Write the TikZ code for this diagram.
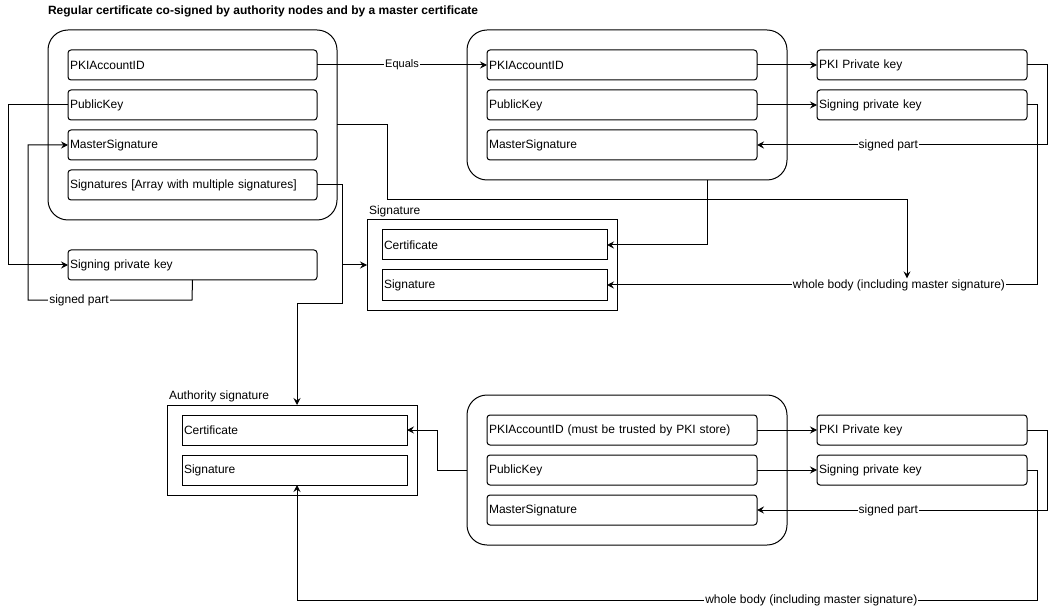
\documentclass[tikz,border=0pt]{standalone}
\usepackage{fontspec}
\setmainfont{Liberation Sans}
\usetikzlibrary{arrows.meta}
\begin{document}
\begin{tikzpicture}[x=1pt,y=-1pt,
  every node/.style={font=\fontsize{12}{14}\selectfont, outer sep=0pt},
  fld/.style={draw, line width=1pt, rounded corners=3pt, minimum height=30pt,
    inner xsep=2pt, inner ysep=0pt, anchor=north west, align=left},
  sqfld/.style={fld, rounded corners=0pt},
  grp/.style={draw, line width=1pt, rounded corners=20pt, anchor=north west, inner sep=0pt},
  frame/.style={draw, line width=1pt, anchor=north west, inner sep=0pt},
  captxt/.style={anchor=base west, inner sep=0pt},
  lnk/.style={line width=1pt, -{Stealth[length=7pt,width=7pt,inset=2.5pt]}},
  lbl/.style={fill=white, inner sep=1pt, font=\fontsize{12}{14}\selectfont},
  smalllbl/.style={lbl, font=\fontsize{11}{13}\selectfont},
]
\useasboundingbox (0,0) rectangle (1056,609);

% title
\node[captxt, font=\bfseries\fontsize{12}{14}\selectfont] (title) at (48,15)
  {Regular certificate co-signed by authority nodes and by a master certificate};

% regular certificate
\node[grp, minimum width=289pt, minimum height=190pt] (g1) at (48,30) {};
\node[fld, text width=245pt] (a1) at (68,50)  {PKIAccountID};
\node[fld, text width=245pt] (a2) at (68,90)  {PublicKey};
\node[fld, text width=245pt] (a3) at (68,130) {MasterSignature};
\node[fld, text width=245pt] (a4) at (68,170) {Signatures [Array with multiple signatures]};
\node[fld, text width=245pt] (a5) at (68,250) {Signing private key};

% master certificate
\node[grp, minimum width=320pt, minimum height=150pt] (g2) at (467,30) {};
\node[fld, text width=266pt] (b1) at (487,50)  {PKIAccountID};
\node[fld, text width=266pt] (b2) at (487,90)  {PublicKey};
\node[fld, text width=266pt] (b3) at (487,130) {MasterSignature};
\node[fld, text width=206pt] (c1) at (817,50)  {PKI Private key};
\node[fld, text width=206pt] (c2) at (817,90)  {Signing private key};

% signature record
\node[frame, minimum width=250pt, minimum height=90pt] (s) at (367,220) {};
\node[captxt] (slbl) at (369,215) {Signature};
\node[sqfld, text width=221pt] (s1) at (382,230) {Certificate};
\node[sqfld, text width=221pt] (s2) at (382,270) {Signature};

% authority signature record
\node[frame, minimum width=250pt, minimum height=90pt] (au) at (167,405) {};
\node[captxt] (aulbl) at (169,399) {Authority signature};
\node[sqfld, text width=221pt] (u1) at (182,415) {Certificate};
\node[sqfld, text width=221pt] (u2) at (182,455) {Signature};

% authority certificate
\node[grp, minimum width=320pt, minimum height=150pt] (g3) at (467,395) {};
\node[fld, text width=266pt] (d1) at (487,415) {PKIAccountID (must be trusted by PKI store)};
\node[fld, text width=266pt] (d2) at (487,455) {PublicKey};
\node[fld, text width=266pt] (d3) at (487,495) {MasterSignature};
\node[fld, text width=206pt] (e1) at (817,415) {PKI Private key};
\node[fld, text width=206pt] (e2) at (817,455) {Signing private key};

% connectors: regular certificate
\draw[lnk] (a1.east) -- node[smalllbl] {Equals} (b1.west);
\draw[lnk] (a2.west) -- (8,105) |- (a5.west);
\draw[lnk] (a5.south) -- (192,300) -- node[lbl, pos=0.689] {signed part} (28,300) |- (a3.west);
\draw[lnk] (a4.east) -- (342,185) |- (s.west);
\draw[lnk] (a4.east) -- (342,185) -- (342,303) -| ([xshift=5pt]au.north);

% connectors: master certificate
\draw[lnk] (b1.east) -- (c1.west);
\draw[lnk] (b2.east) -- (c2.west);
\draw[lnk] (c1.east) -- (1047,65) -- (1047,145) -- node[lbl, pos=0.547] {signed part} (b3.east);
\draw[lnk] ([xshift=240pt]g2.south west) |- (s1.east);
\draw[lnk] (c2.east) -- (1037,105) -- (1037,285)
  -- node[lbl, pos=0.321] (wb) {whole body (including master signature)} (s2.east);
\draw[lnk] (g1.east) -- (387,125) |- (907,200) -- (907,200 |- wb.north);

% connectors: authority certificate
\draw[lnk] (g3.west) -- (437,470) |- (u1.east);
\draw[lnk] (d1.east) -- (e1.west);
\draw[lnk] (d2.east) -- (e2.west);
\draw[lnk] (e1.east) -- (1047,430) -- (1047,510) -- node[lbl, pos=0.547] {signed part} (d3.east);
\draw[lnk] (e2.east) -- (1037,470) -- (1037,600)
  -- node[lbl, pos=0.305] (wb2) {whole body (including master signature)} (297,600)
  -- (297,600 |- u2.south);
\end{tikzpicture}
\end{document}
